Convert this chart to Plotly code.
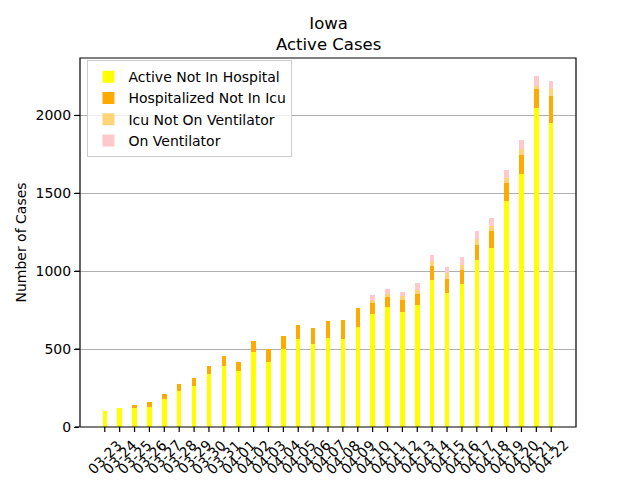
import plotly.graph_objects as go

# dates shown on the x axis (2020, Iowa)
dates = ['03-23', '03-24', '03-25', '03-26', '03-27', '03-28', '03-29', '03-30', '03-31',
         '04-01', '04-02', '04-03', '04-04', '04-05', '04-06', '04-07', '04-08', '04-09',
         '04-10', '04-11', '04-12', '04-13', '04-14', '04-15', '04-16', '04-17', '04-18',
         '04-19', '04-20', '04-21', '04-22']

# values
not_in_hospital = [100, 123, 124, 128, 180, 231, 263, 340, 391, 359, 481, 417, 500, 564, 532, 570,
                   564, 641, 724, 769, 737, 782, 942, 859, 917, 1071, 1147, 1449, 1622, 2045, 1949]
hosp_not_icu = [0, 0, 17, 32, 31, 45, 51, 51, 64, 58, 70, 81, 83, 90, 103, 109,
                122, 122, 71, 64, 77, 71, 90, 90, 89, 96, 109, 115, 122, 122, 179]
icu_not_vent = [0, 0, 0, 0, 0, 0, 0, 0, 0, 0, 0, 0, 0, 0, 0, 0,
                0, 0, 19, 24, 26, 25, 32, 38, 32, 38, 34, 34, 38, 25, 39]
on_vent = [0, 0, 0, 0, 0, 0, 0, 0, 0, 0, 0, 0, 0, 0, 0, 0,
           0, 0, 32, 28, 25, 45, 39, 39, 52, 51, 50, 49, 58, 64, 51]
y_ticks = [0, 500, 1000, 1500, 2000]

series = [
    ('Active Not In Hospital', not_in_hospital, '#ffff00'),
    ('Hospitalized Not In Icu', hosp_not_icu, '#ffaa00'),
    ('Icu Not On Ventilator', icu_not_vent, '#ffd479'),
    ('On Ventilator', on_vent, '#ffc9cb'),
]

xs = list(range(len(dates)))
bar_w = 0.3

fig = go.Figure()
for name, vals, col in series:
    fig.add_trace(go.Bar(x=xs, y=vals, name=name, width=bar_w,
                         marker=dict(color=col, line_width=0)))

totals = [a + b + c + d for a, b, c, d in zip(not_in_hospital, hosp_not_icu, icu_not_vent, on_vent)]
pad = 0.05 * (len(dates) - 1 + bar_w)

# rotated date labels, centred under each tick like matplotlib does it
for i, d in zip(xs, dates):
    fig.add_annotation(x=i, xref='x', y=0, yref='paper', text=d, showarrow=False,
                       textangle=-45, xanchor='center', yanchor='top', yshift=-8,
                       font=dict(size=14), borderpad=0)

# two line title
fig.add_annotation(x=0.5, xref='paper', y=1, yref='paper', yshift=2, text='Iowa<br>Active Cases',
                   showarrow=False, yanchor='bottom', font=dict(size=16.5))

# frame and tick marks (the axis lines / ticks did not show up in the screenshots)
fig.add_shape(type='rect', xref='paper', yref='paper', x0=0, x1=1, y0=0, y1=1,
              line=dict(color='black', width=1.2), fillcolor='rgba(0,0,0,0)', layer='above')
for i in xs:
    fig.add_shape(type='line', xref='x', yref='paper', x0=i, x1=i, y0=0, y1=-0.0135,
                  line=dict(color='black', width=1.2), layer='above')
for v in y_ticks:
    fig.add_shape(type='line', xref='paper', yref='y', x0=0, x1=-0.01, y0=v, y1=v,
                  line=dict(color='black', width=1.2), layer='above')

# the page body has an 8px margin, so the margins are 8px less on the left/top
fig.update_layout(
    barmode='stack',
    width=640, height=480,
    margin=dict(l=72, r=72, t=50, b=61, autoexpand=False),
    plot_bgcolor='white', paper_bgcolor='white',
    font=dict(family='DejaVu Sans', size=14, color='black'),
    showlegend=True,
    legend=dict(x=0.015, y=0.994, xanchor='left', yanchor='top', traceorder='normal',
                bgcolor='rgba(255,255,255,0.8)', bordercolor='#cccccc', borderwidth=1,
                font=dict(size=14)),
    xaxis=dict(range=[-bar_w / 2 - pad, len(dates) - 1 + bar_w / 2 + pad],
               tickvals=xs, showticklabels=False, showgrid=False, zeroline=False),
    yaxis=dict(range=[0, max(totals) * 1.05], tickvals=y_ticks,
               showgrid=True, gridcolor='#b0b0b0', gridwidth=1, zeroline=False,
               ticks='outside', ticklen=5, tickcolor='black',
               title=dict(text='Number of Cases', font=dict(size=14), standoff=5),
               tickfont=dict(size=14)),
)

fig.write_html("out.html")
